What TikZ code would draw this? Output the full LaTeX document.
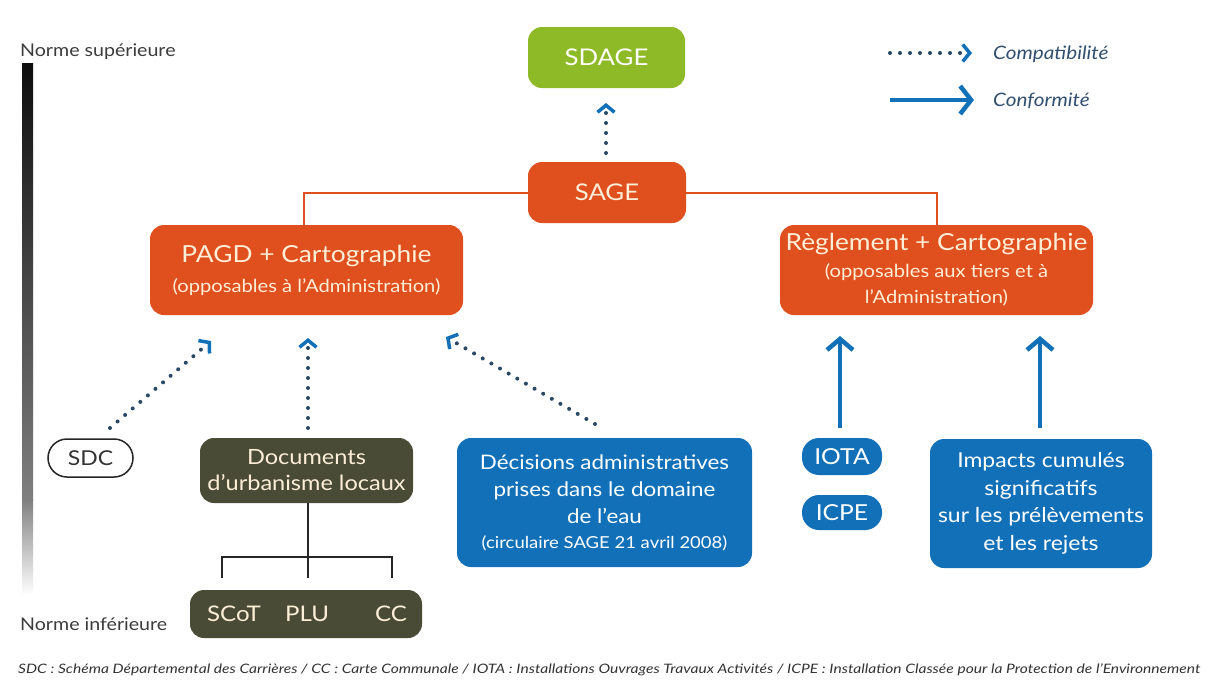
\documentclass[tikz,border=0pt]{standalone}
\usepackage{fontspec}
\setmainfont{Lato}[FakeStretch=1.12]
\usetikzlibrary{arrows.meta}
\definecolor{orng}{RGB}{224,79,30}
\definecolor{grn}{RGB}{141,186,38}
\definecolor{blu}{RGB}{18,112,184}
\definecolor{olv}{RGB}{74,75,54}
\definecolor{dotc}{RGB}{40,72,100}
\definecolor{legt}{RGB}{50,80,112}
\definecolor{cream}{RGB}{253,238,215}
\definecolor{txtgray}{RGB}{60,60,60}
\tikzset{
  fbox/.style={rounded corners=14pt, inner sep=2pt, align=center, text=white},
  obox/.style={fbox, fill=orng, text=cream},
  gbox/.style={fbox, fill=grn},
  bbox/.style={fbox, fill=blu},
  vbox/.style={fbox, fill=olv, text=cream},
  pillb/.style={fill=blu, text=white, rounded corners=17pt, inner sep=2pt},
  tx/.style={inner sep=0pt, text=cream},
  orline/.style={draw=orng, line width=2pt},
  treeline/.style={draw=black!85, line width=2pt},
  dotarrow/.style={draw=dotc, line width=4pt, line cap=round, dash pattern=on 0pt off 10pt,
     -{Straight Barb[length=7pt, width=17pt, line width=3.5pt, color=blu]}},
  solidarrow/.style={draw=blu, line width=4.5pt,
     -{Straight Barb[length=11pt, width=26pt, line width=4.5pt]}},
  lbl/.style={inner sep=0pt, anchor=west, text=txtgray, font=\fontsize{17.5}{20}\selectfont},
  legtxt/.style={inner sep=0pt, anchor=west, text=legt, font=\fontsize{18.5}{22}\selectfont\itshape}
}
\begin{document}
\begin{tikzpicture}[x=1pt,y=-1pt]
\useasboundingbox[fill=white] (0,0) rectangle (1211,689);

% gradient scale bar
\shade[top color=black!95, bottom color=black!50] (22,63) rectangle (33,500);
\shade[top color=black!50, bottom color=white] (22,499) rectangle (33,595);
\node[lbl] (nsup) at (20,52) {Norme supérieure};
\node[lbl] (ninf) at (20,624) {Norme inférieure};

% legend
\coordinate (lc1) at (890,53);
\coordinate (lc2) at (972,53);
\node[legtxt] (lcompat) at (993,54) {Compatibilité};
\draw[dotarrow, -{Straight Barb[length=7pt, width=17pt, line width=3.5pt, color=blu]}] (lc1) -- (lc2);
\coordinate (ls1) at (890,100);
\coordinate (ls2) at (974,100);
\node[legtxt] (lconf) at (993,101) {Conformité};
\draw[solidarrow, -{Straight Barb[length=11pt, width=28pt, line width=4.5pt]}] (ls1) -- (ls2);

% main nodes
\node[gbox, minimum width=157pt, minimum height=61pt, font=\fontsize{23}{27}\selectfont] (sdage) at (606.5,57.5) {SDAGE};
\node[obox, minimum width=158pt, minimum height=61pt, font=\fontsize{23}{27}\selectfont] (sage) at (607,192.5) {SAGE};

\node[obox, minimum width=313pt, minimum height=90pt, font=\fontsize{23.5}{30}\selectfont] (pagd) at (306.5,270) {%
  PAGD + Cartographie\\
  {\fontsize{18}{22}\selectfont (opposables à l’Administration)}};
\node[obox, minimum width=313pt, minimum height=90pt, font=\fontsize{18}{26}\selectfont] (regl) at (936.5,270) {%
  {\fontsize{23.5}{28}\selectfont Règlement + Cartographie}\\[1pt]
  (opposables aux tiers et à\\
  l’Administration)};

\node[draw=black!85, line width=1.5pt, fill=white, rounded corners=19pt, minimum width=85pt,
      minimum height=38pt, inner sep=2pt, font=\fontsize{20.5}{24}\selectfont, text=black!80] (sdc) at (90.5,458) {SDC};

\node[vbox, minimum width=213pt, minimum height=65pt, font=\fontsize{21}{26}\selectfont] (docs) at (306.5,470.5) {Documents\\d’urbanisme locaux};

\node[vbox, minimum width=232pt, minimum height=48pt] (sbox) at (306,614) {};
\node[tx, font=\fontsize{21.5}{24}\selectfont] (scot) at (234,614) {SCoT};
\node[tx, font=\fontsize{21.5}{24}\selectfont] (plu) at (307,614) {PLU};
\node[tx, font=\fontsize{21.5}{24}\selectfont] (cc) at (391,614) {CC};

\node[bbox, minimum width=295pt, minimum height=129pt, font=\fontsize{20}{27}\selectfont] (dec) at (604.5,502.5) {%
  Décisions administratives\\
  prises dans le domaine\\
  de l’eau\\[-2pt]
  {\fontsize{16.5}{20}\selectfont (circulaire SAGE 21 avril 2008)}};

\node[pillb, minimum width=80pt, minimum height=37pt, font=\fontsize{22}{24}\selectfont] (iota) at (842,456.5) {IOTA};
\node[pillb, minimum width=80pt, minimum height=35pt, font=\fontsize{22}{24}\selectfont] (icpe) at (842,512.5) {ICPE};

\node[bbox, minimum width=222pt, minimum height=129pt, font=\fontsize{20.5}{27.5}\selectfont] (imp) at (1041,503.5) {%
  Impacts cumulés\\significatifs\\sur les prélèvements\\et les rejets};

% SAGE branches
\draw[orline] (sage.west) -| (304,225);
\draw[orline] (sage.east) -| (regl.north);

% compatibility arrows
\coordinate (sg) at (606,153);
\coordinate (sd) at (606,103);
\draw[dotarrow] (sg) -- (sd);
\coordinate (sdcA) at (110,428);
\coordinate (sdcB) at (211,341);
\draw[dotarrow] (sdcA) -- (sdcB);
\coordinate (docA) at (308,428);
\coordinate (docB) at (308,338);
\draw[dotarrow] (docA) -- (docB);
\coordinate (decA) at (595,424);
\coordinate (decB) at (446,337);
\draw[dotarrow] (decA) -- (decB);

% conformity arrows
\coordinate (ia) at (840,428);
\coordinate (ib) at (840,336);
\draw[solidarrow] (ia) -- (ib);
\coordinate (ma) at (1040,428);
\coordinate (mb) at (1040,336);
\draw[solidarrow] (ma) -- (mb);

% tree
\coordinate (tj) at (308,557);
\draw[treeline] (docs.south -| tj) -- (tj);
\draw[treeline] (222,578) |- (392,557) -- (392,578);
\draw[treeline] (tj) -- (308,578);

% footer
\node[inner sep=0pt, anchor=west, text=black!80] (foot) at (18,670) {\resizebox{1182pt}{\height}{\fontsize{13}{15}\selectfont\itshape SDC : Schéma Départemental des Carrières / CC : Carte Communale / IOTA : Installations Ouvrages Travaux Activités / ICPE : Installation Classée pour la Protection de l’Environnement}};
\end{tikzpicture}
\end{document}
